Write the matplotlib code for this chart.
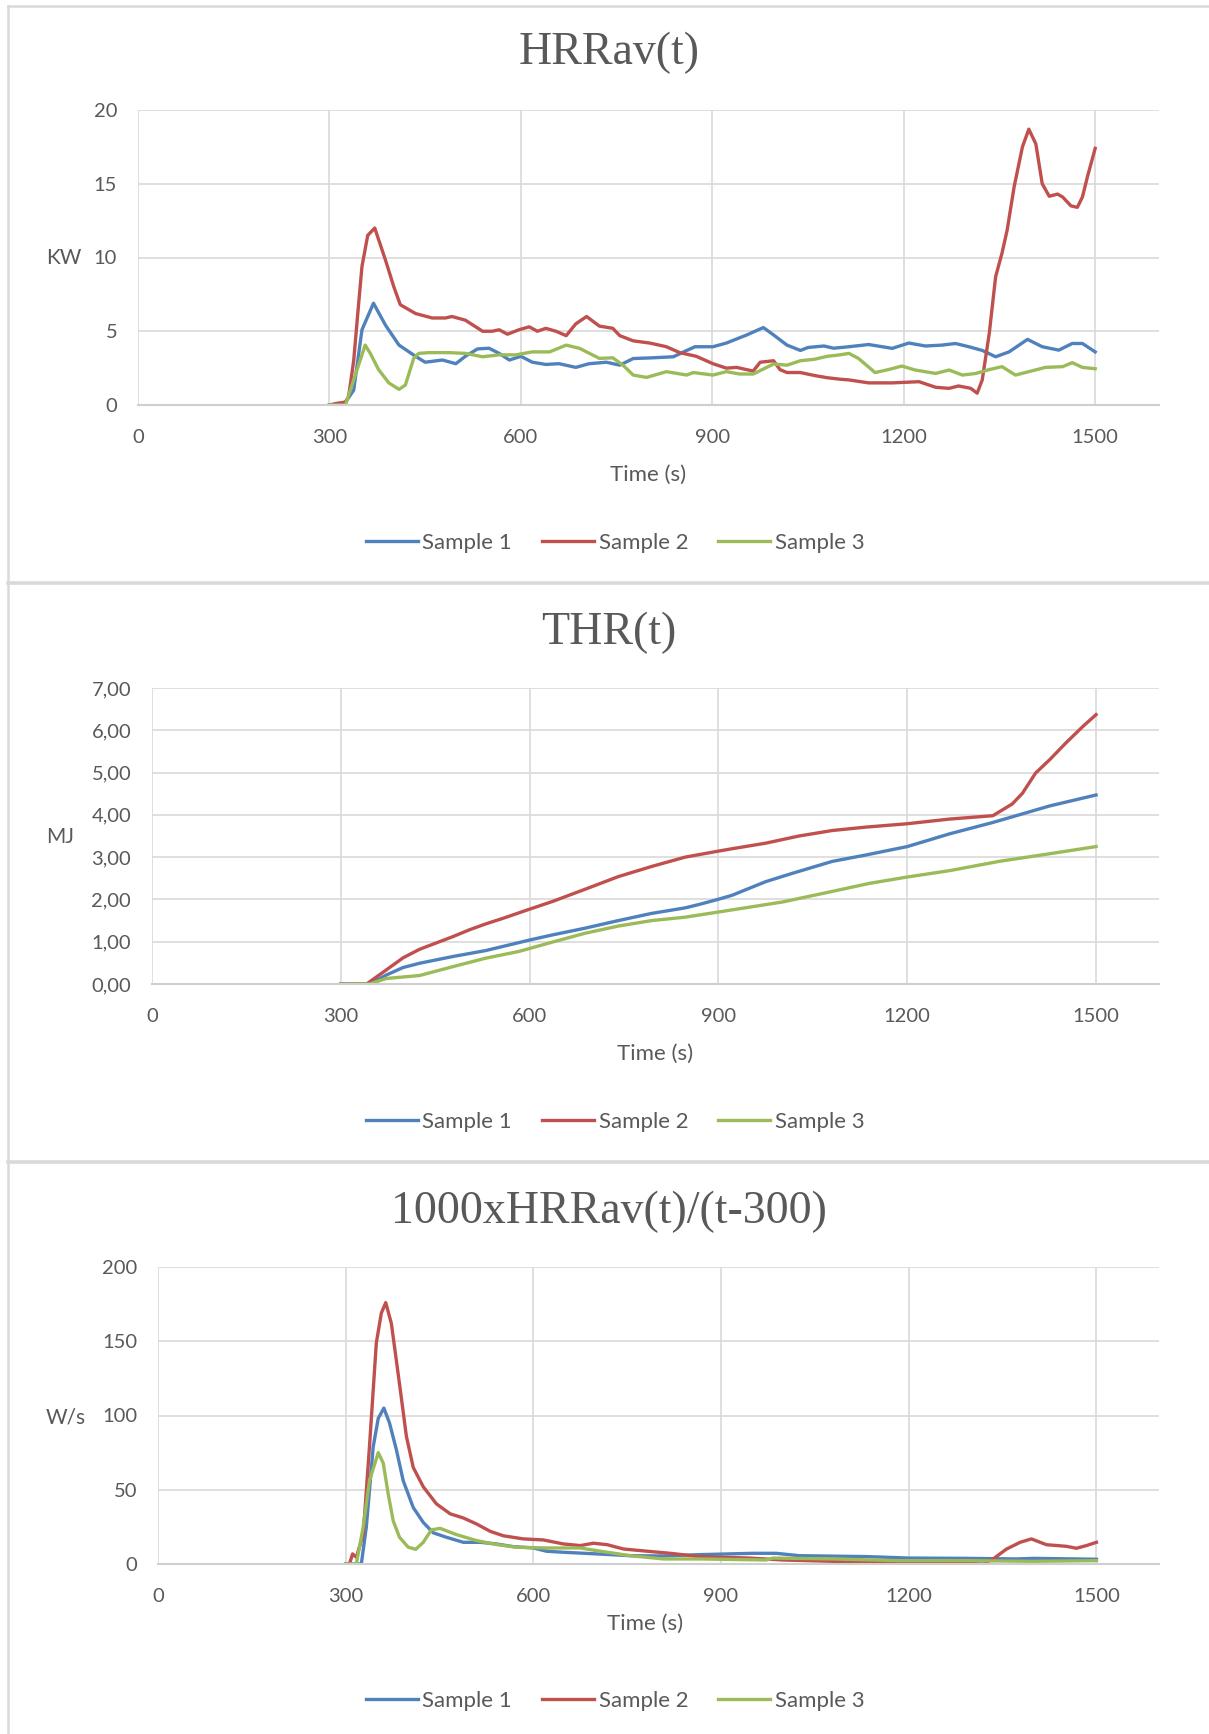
import matplotlib
matplotlib.use("Agg")
import matplotlib.pyplot as plt
from matplotlib.lines import Line2D

W, H = 1209, 1734

BLUE = "#4F81BD"
RED = "#C0504D"
GREEN = "#9BBB59"
GRID = "#D9D9D9"
TEXT = "#595959"

LABELS = ["Sample 1", "Sample 2", "Sample 3"]
X_TICKS = [0, 300, 600, 900, 1200, 1500]

# HRRav(t) in kW
hrr_t1 = [300, 322, 338, 351, 369, 388, 409, 435, 450, 477, 498, 513, 532, 550, 566, 582, 600,
          618, 639, 660, 686, 707, 734, 755, 776, 807, 839, 860, 873, 901, 922, 954, 980, 996,
          1017, 1038, 1050, 1075, 1090, 1114, 1145, 1182, 1208, 1234, 1260, 1281, 1302, 1323,
          1344, 1365, 1394, 1417, 1443, 1464, 1480, 1500]
hrr_v1 = [0, 0, 1.0, 5.1, 6.9, 5.4, 4.06, 3.3, 2.9, 3.05, 2.8, 3.3, 3.8, 3.85, 3.5, 3.05, 3.3,
          2.9, 2.75, 2.8, 2.55, 2.8, 2.9, 2.7, 3.15, 3.2, 3.27, 3.7, 3.95, 3.95, 4.2, 4.75, 5.25,
          4.75, 4.06, 3.7, 3.9, 4.0, 3.85, 3.95, 4.1, 3.84, 4.2, 4.0, 4.06, 4.17, 3.95, 3.7,
          3.27, 3.6, 4.45, 3.95, 3.72, 4.17, 4.17, 3.6]
hrr_t2 = [300, 310, 325, 330, 338, 345, 351, 360, 371, 388, 401, 411, 435, 461, 482, 492, 513,
          540, 555, 566, 579, 597, 613, 626, 639, 655, 671, 686, 703, 723, 744, 755, 776, 802,
          828, 849, 875, 901, 922, 938, 964, 975, 996, 1006, 1017, 1038, 1060, 1080, 1100, 1114,
          1145, 1182, 1224, 1250, 1271, 1286, 1305, 1315, 1323, 1334, 1344, 1354, 1362, 1373,
          1386, 1396, 1407, 1417, 1428, 1441, 1449, 1462, 1472, 1480, 1488, 1500]
hrr_v2 = [0, 0.1, 0.2, 0.56, 3.0, 6.5, 9.4, 11.5, 12.0, 9.8, 8.0, 6.8, 6.2, 5.9, 5.9, 6.0, 5.75,
          5.0, 5.0, 5.1, 4.8, 5.1, 5.3, 5.0, 5.2, 5.0, 4.7, 5.5, 6.0, 5.35, 5.2, 4.7, 4.35, 4.2,
          3.95, 3.55, 3.3, 2.8, 2.5, 2.55, 2.3, 2.9, 3.0, 2.4, 2.2, 2.2, 2.0, 1.85, 1.75, 1.7,
          1.5, 1.5, 1.58, 1.2, 1.13, 1.29, 1.13, 0.8, 1.7, 4.85, 8.7, 10.3, 11.85, 14.8,
          17.5, 18.7, 17.7, 15.0, 14.15, 14.3, 14.1, 13.5, 13.4, 14.1, 15.5, 17.4]
hrr_t3 = [300, 325, 338, 356, 364, 377, 393, 409, 419, 432, 440, 456, 487, 513, 540, 566, 592,
          618, 645, 671, 692, 723, 744, 760, 776, 797, 828, 860, 870, 901, 922, 943, 964, 996,
          1017, 1038, 1060, 1080, 1100, 1114, 1129, 1155, 1176, 1197, 1218, 1250, 1271, 1292,
          1313, 1334, 1354, 1375, 1396, 1422, 1449, 1464, 1480, 1500]
hrr_v3 = [0, 0, 1.7, 4.06, 3.5, 2.4, 1.5, 1.06, 1.35, 3.16, 3.5, 3.55, 3.55, 3.5, 3.27, 3.4, 3.4,
          3.6, 3.6, 4.06, 3.84, 3.16, 3.2, 2.7, 2.03, 1.87, 2.26, 2.03, 2.2, 2.03, 2.26, 2.1, 2.1,
          2.78, 2.7, 3.0, 3.1, 3.3, 3.4, 3.5, 3.16, 2.2, 2.4, 2.64, 2.37, 2.14, 2.37, 2.03,
          2.14, 2.4, 2.6, 2.03, 2.26, 2.55, 2.6, 2.87, 2.55, 2.46]

# THR(t) in MJ
thr_t1 = [300, 346, 372, 399, 425, 478, 530, 600, 636, 688, 741, 794, 847, 869, 899, 922, 975,
          1018, 1081, 1134, 1200, 1267, 1336, 1373, 1426, 1500]
thr_v1 = [0, 0, 0.21, 0.39, 0.49, 0.65, 0.79, 1.04, 1.16, 1.32, 1.5, 1.67, 1.80, 1.88, 2.0, 2.1,
          2.42, 2.62, 2.9, 3.05, 3.25, 3.55, 3.82, 3.98, 4.21, 4.47]
thr_t2 = [300, 341, 372, 399, 425, 478, 504, 530, 557, 600, 636, 688, 741, 794, 847, 899, 922,
          975, 1028, 1081, 1134, 1200, 1267, 1336, 1367, 1383, 1404, 1426, 1452, 1479, 1500]
thr_v2 = [0, 0, 0.33, 0.62, 0.82, 1.12, 1.28, 1.42, 1.55, 1.77, 1.95, 2.24, 2.54, 2.78, 3.0,
          3.14, 3.2, 3.33, 3.5, 3.63, 3.71, 3.79, 3.9, 3.98, 4.26, 4.51, 4.99, 5.3, 5.7, 6.09,
          6.37]
thr_t3 = [300, 346, 372, 425, 478, 530, 583, 636, 688, 741, 794, 847, 899, 1002, 1081, 1140,
          1200, 1267, 1346, 1426, 1500]
thr_v3 = [0, 0, 0.13, 0.2, 0.41, 0.61, 0.77, 0.99, 1.2, 1.37, 1.5, 1.58, 1.70, 1.94, 2.19, 2.38,
          2.53, 2.68, 2.9, 3.08, 3.25]

# 1000xHRRav(t)/(t-300) in W/s
rate_t1 = [300, 325, 333, 344, 352, 361, 370, 381, 392, 408, 424, 440, 461, 488, 515, 541, 568,
           600, 621, 648, 701, 755, 808, 865, 951, 988, 1025, 1132, 1200, 1292, 1372, 1399, 1500]
rate_v1 = [0, 0, 25, 79, 98, 105, 95, 77, 56, 38, 28, 21, 18, 14.6, 14.6, 13.5, 11.7,
           10.8, 8.6, 7.9, 6.8, 5.6, 5.4, 6.3, 7.2, 7.2, 5.6, 5.0, 4.0, 3.8, 3.4, 3.8, 3.2]
rate_t2 = [300, 306, 311, 317, 328, 338, 349, 357, 364, 373, 381, 388, 397, 408, 424, 445, 467,
           488, 509, 531, 552, 584, 616, 648, 675, 696, 718, 744, 782, 819, 865, 945, 999, 1079,
           1132, 1239, 1292, 1319, 1335, 1356, 1378, 1396, 1420, 1452, 1468, 1484, 1500]
rate_v2 = [0, 0, 6.8, 4.5, 20, 79, 149, 169, 176, 162, 137, 115, 86, 65, 52, 40.5, 33.8,
           31, 27, 22, 19, 16.9, 16.2, 13.5, 12.4, 14, 13, 10.1, 8.6, 7.2, 5, 4, 2.7, 1.8,
           1.1, 1.1, 0.45, 0, 3.4, 10, 14.6, 16.9, 13, 11.9, 10.6, 12.4, 14.6]
rate_t3 = [300, 317, 328, 338, 352, 360, 368, 376, 386, 400, 412, 424, 437, 451, 477, 509, 541,
           573, 621, 675, 701, 755, 808, 865, 972, 983, 1079, 1185, 1292, 1399, 1500]
rate_v3 = [0, 0, 25, 56, 75, 68, 47, 29, 18, 11.3, 9.9, 14.6, 23, 24, 19.8, 15.8, 13.1,
           11.3, 10.8, 10.8, 9, 5.6, 3.4, 3.4, 2.7, 4.0, 3.4, 2.25, 2.25, 1.8, 2.25]

hrr_ticks = [0, 5, 10, 15, 20]
thr_ticks = [0, 1, 2, 3, 4, 5, 6, 7]
thr_tick_labels = ["0,00", "1,00", "2,00", "3,00", "4,00", "5,00", "6,00", "7,00"]
rate_ticks = [0, 50, 100, 150, 200]

plt.rcParams["font.family"] = ["Lato", "DejaVu Sans"]


def fig_rect(left, top, right, bottom):
    # pixel box -> figure fraction
    return [left / W, 1 - bottom / H, (right - left) / W, (bottom - top) / H]


def plot_panel(fig, box, series, yticks, yticklabels, title, title_y, ylabel, ylabel_y,
               legend_y, xlabel_x=None, xlabel_pad=13.5):
    ax = fig.add_axes(fig_rect(*box))
    for (t, v), color, label in zip(series, [BLUE, RED, GREEN], LABELS):
        ax.plot(t, v, color=color, lw=2.4, label=label, solid_joinstyle="round")

    ax.set_xlim(0, 1600)
    ax.set_ylim(yticks[0], yticks[-1])
    ax.set_xticks(X_TICKS)
    ax.set_yticks(yticks)
    ax.set_yticklabels(yticklabels)
    ax.grid(True, color=GRID, lw=1.2)
    ax.set_axisbelow(True)
    for side in ["left", "right", "top"]:
        ax.spines[side].set_visible(False)
    ax.spines["bottom"].set_color("#CFCFCF")
    ax.spines["bottom"].set_linewidth(1.5)
    ax.tick_params(length=0, labelsize=14.5, labelcolor=TEXT)
    ax.tick_params(axis="y", pad=15)
    ax.tick_params(axis="x", pad=17)
    ax.set_xlabel("Time (s)", fontsize=16, color=TEXT, labelpad=xlabel_pad)
    if xlabel_x is not None:
        ax.xaxis.label.set_x(xlabel_x)

    fig.text(609 / W, 1 - title_y / H, title, ha="center", va="center", fontsize=33,
             family="Liberation Serif", color=TEXT)
    fig.text(46 / W, 1 - ylabel_y / H, ylabel, ha="left", va="center", fontsize=15, color=TEXT)
    ax.legend(loc="center", bbox_to_anchor=(615 / W, 1 - legend_y / H),
              bbox_transform=fig.transFigure, ncol=3, frameon=False, fontsize=16,
              labelcolor=TEXT, handlelength=2.35, handletextpad=0.2, columnspacing=1.35)
    return ax


def draw_frame(fig):
    x0 = 8 / W
    fig.add_artist(Line2D([x0, x0], [0, 1 - 6 / H], transform=fig.transFigure,
                          color=GRID, lw=1.8))
    fig.add_artist(Line2D([x0, 1], [1 - 6 / H, 1 - 6 / H], transform=fig.transFigure,
                          color=GRID, lw=1.8))
    for y in [583, 1162]:
        fig.add_artist(Line2D([x0, 1], [1 - y / H, 1 - y / H], transform=fig.transFigure,
                              color=GRID, lw=2.6))


if __name__ == "__main__":
    fig = plt.figure(figsize=(W / 100, H / 100), dpi=100)
    fig.patch.set_facecolor("white")
    draw_frame(fig)

    plot_panel(fig, (138, 110, 1159, 405),
               [(hrr_t1, hrr_v1), (hrr_t2, hrr_v2), (hrr_t3, hrr_v3)],
               hrr_ticks, [str(v) for v in hrr_ticks],
               "HRRav(t)", 53, "KW", 258, 543)
    plot_panel(fig, (152, 688, 1159, 984),
               [(thr_t1, thr_v1), (thr_t2, thr_v2), (thr_t3, thr_v3)],
               thr_ticks, thr_tick_labels,
               "THR(t)", 633, "MJ", 837, 1122)
    plot_panel(fig, (158, 1267, 1159, 1564),
               [(rate_t1, rate_v1), (rate_t2, rate_v2), (rate_t3, rate_v3)],
               rate_ticks, [str(v) for v in rate_ticks],
               "1000xHRRav(t)/(t-300)", 1212, "W/s", 1417, 1701,
               xlabel_x=0.487, xlabel_pad=7)

    plt.savefig("out.png", dpi=100)
